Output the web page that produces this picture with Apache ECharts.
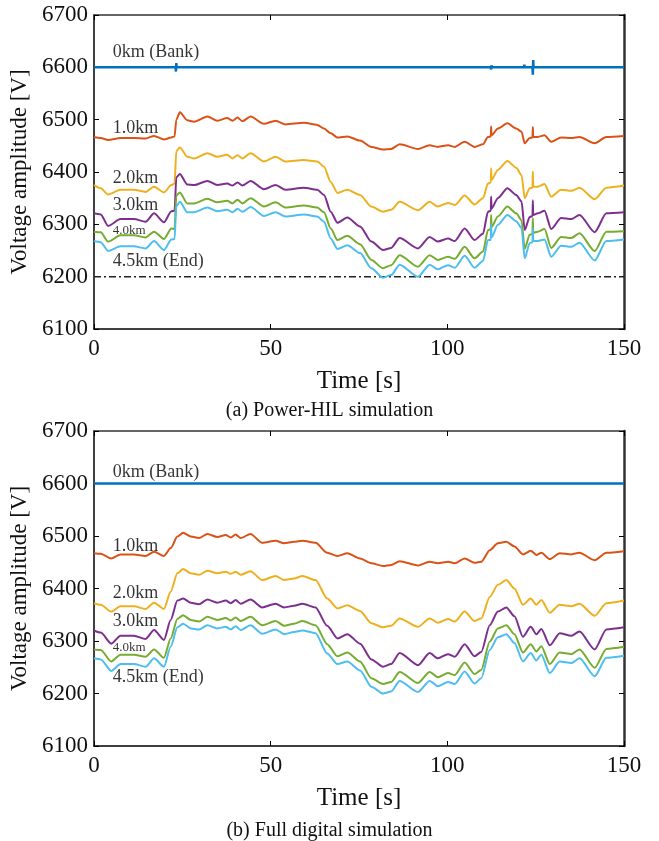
<!DOCTYPE html>
<html>
<head>
<meta charset="utf-8">
<script src="https://cdn.jsdelivr.net/npm/echarts@6/dist/echarts.min.js"></script>
<style>
  html, body { margin: 0; padding: 0; background: #fff; }
  #chart { width: 659px; height: 841px; }
</style>
</head>
<body>
<div id="chart"></div>
<script>
// ---- (a) Power-HIL simulation ----
const tA = [0, 1.9, 4.0, 7.5, 11.3, 14.6, 17.0, 19.8, 21.9, 22.8,
  23.3, 24.3, 26.4, 28.3, 32.1, 34.9, 37.7, 39.2, 40.6, 42.0,
  44.3, 48.1, 51.4, 54.2, 59.4, 63.2, 65.1, 67.0, 68.9, 71.7,
  75.3, 78.5, 81.8, 84.1, 86.5, 91.7, 95.0, 97.3, 100.2, 102.1,
  104.9, 107.7, 110.1, 111.5, 112.3, 112.4, 112.5, 114.3, 117.0, 119.5,
  121.0, 121.9, 123.3, 124.1, 124.2, 124.3, 125.6, 127.5, 129.4, 132.2,
  135.1, 137.4, 141.7, 145.0, 150]
const a10 = [6467, 6465, 6461, 6465, 6465, 6464, 6469, 6462, 6466, 6468,
  6500, 6514, 6499, 6496, 6506, 6498, 6503, 6498, 6504, 6497,
  6506, 6492, 6498, 6491, 6494, 6490, 6483, 6474, 6466, 6468,
  6460, 6448, 6443, 6444, 6453, 6444, 6451, 6448, 6451, 6448,
  6458, 6448, 6453, 6467, 6468, 6487, 6470, 6483, 6493, 6483,
  6477, 6455, 6465, 6466, 6486, 6467, 6467, 6470, 6458, 6466,
  6465, 6467, 6455, 6467, 6469]
const a20 = [6375, 6369, 6357, 6366, 6366, 6362, 6372, 6361, 6375, 6378,
  6440, 6447, 6429, 6426, 6436, 6429, 6433, 6426, 6432, 6426,
  6436, 6420, 6429, 6420, 6423, 6420, 6410, 6381, 6360, 6366,
  6356, 6334, 6324, 6328, 6343, 6327, 6343, 6334, 6341, 6337,
  6355, 6338, 6350, 6378, 6380, 6407, 6385, 6404, 6421, 6408,
  6394, 6350, 6369, 6370, 6401, 6372, 6372, 6377, 6353, 6366,
  6364, 6370, 6348, 6370, 6374]
const a30 = [6321, 6319, 6297, 6310, 6310, 6305, 6321, 6304, 6325, 6326,
  6390, 6396, 6376, 6375, 6383, 6375, 6378, 6374, 6380, 6374,
  6383, 6367, 6375, 6366, 6370, 6366, 6356, 6324, 6303, 6313,
  6296, 6267, 6251, 6255, 6274, 6254, 6276, 6267, 6273, 6268,
  6292, 6270, 6282, 6324, 6326, 6353, 6330, 6350, 6369, 6356,
  6344, 6289, 6314, 6316, 6346, 6318, 6321, 6326, 6291, 6312,
  6310, 6318, 6285, 6321, 6323]
const a40 = [6286, 6285, 6267, 6279, 6279, 6275, 6286, 6272, 6292, 6291,
  6355, 6361, 6340, 6340, 6349, 6342, 6345, 6340, 6347, 6340,
  6350, 6334, 6342, 6332, 6336, 6332, 6323, 6292, 6270, 6278,
  6262, 6232, 6216, 6222, 6241, 6219, 6241, 6232, 6238, 6234,
  6257, 6235, 6248, 6289, 6291, 6318, 6295, 6315, 6334, 6321,
  6308, 6253, 6280, 6282, 6312, 6284, 6286, 6291, 6255, 6276,
  6274, 6283, 6249, 6286, 6287]
const a45 = [6268, 6266, 6249, 6258, 6258, 6254, 6268, 6251, 6271, 6272,
  6335, 6343, 6323, 6323, 6332, 6325, 6328, 6323, 6330, 6324,
  6333, 6316, 6323, 6315, 6319, 6315, 6305, 6273, 6253, 6260,
  6245, 6216, 6198, 6203, 6223, 6200, 6223, 6214, 6222, 6217,
  6240, 6217, 6230, 6270, 6270, 6300, 6275, 6299, 6318, 6306,
  6293, 6235, 6264, 6266, 6293, 6268, 6268, 6271, 6238, 6259,
  6257, 6265, 6231, 6268, 6271]
const t0A = [0, 23.1, 23.2, 23.3, 23.4, 112.3, 112.4, 112.5, 112.6, 121.7, 121.8, 121.9, 124.1, 124.2, 124.3, 124.4, 150]
const v0A = [6600, 6600, 6592, 6608, 6600, 6600, 6596, 6604, 6600, 6600, 6605, 6600, 6600, 6586, 6614, 6600, 6600]
const limT = [0, 150]
const limV = [6200, 6200]

// ---- (b) Full digital simulation ----
const tB = [0, 1.9, 4.9, 7.5, 11.3, 14.6, 17.0, 19.8, 21.7, 23.6,
  25.2, 27.4, 29.7, 32.1, 34.9, 37.3, 38.7, 40.1, 41.5, 44.3,
  47.6, 51.4, 53.8, 56.6, 59.0, 62.7, 66.0, 68.9, 71.7, 75.3,
  78.5, 81.8, 84.1, 86.5, 91.7, 95.0, 97.3, 100.2, 102.1, 104.9,
  107.7, 109.6, 112.0, 114.3, 116.7, 119.0, 121.4, 123.6, 125.2, 126.6,
  129.0, 131.8, 135.1, 137.4, 141.7, 145.0, 150]
const b10 = [6467, 6466, 6457, 6465, 6465, 6462, 6470, 6462, 6477, 6499,
  6506, 6499, 6496, 6504, 6498, 6502, 6497, 6503, 6496, 6504,
  6487, 6491, 6486, 6489, 6491, 6487, 6468, 6462, 6467, 6457,
  6448, 6443, 6445, 6452, 6444, 6451, 6448, 6451, 6448, 6457,
  6449, 6451, 6473, 6486, 6489, 6480, 6465, 6472, 6464, 6468,
  6456, 6467, 6465, 6468, 6454, 6468, 6471]
const b20 = [6372, 6369, 6356, 6366, 6366, 6361, 6373, 6361, 6394, 6429,
  6437, 6429, 6426, 6434, 6429, 6432, 6428, 6432, 6426, 6433,
  6416, 6424, 6416, 6419, 6424, 6416, 6381, 6362, 6368, 6357,
  6334, 6326, 6329, 6343, 6327, 6343, 6335, 6342, 6337, 6356,
  6338, 6343, 6384, 6407, 6416, 6400, 6369, 6381, 6369, 6378,
  6354, 6369, 6366, 6371, 6348, 6372, 6377]
const b30 = [6320, 6316, 6295, 6310, 6310, 6304, 6321, 6302, 6340, 6377,
  6381, 6373, 6370, 6379, 6373, 6377, 6372, 6378, 6371, 6379,
  6364, 6371, 6364, 6367, 6371, 6364, 6329, 6305, 6313, 6295,
  6265, 6251, 6256, 6277, 6254, 6277, 6267, 6275, 6270, 6294,
  6271, 6279, 6330, 6356, 6364, 6347, 6308, 6327, 6313, 6323,
  6292, 6315, 6310, 6318, 6284, 6322, 6326]
const b40 = [6284, 6283, 6261, 6274, 6274, 6270, 6284, 6268, 6305, 6342,
  6349, 6340, 6337, 6346, 6340, 6344, 6339, 6345, 6338, 6346,
  6330, 6338, 6329, 6333, 6338, 6330, 6294, 6271, 6278, 6261,
  6229, 6218, 6222, 6241, 6220, 6241, 6231, 6239, 6235, 6259,
  6237, 6245, 6299, 6324, 6330, 6313, 6278, 6294, 6280, 6290,
  6256, 6278, 6275, 6284, 6249, 6285, 6289]
const b45 = [6267, 6265, 6243, 6256, 6256, 6251, 6267, 6251, 6289, 6326,
  6333, 6324, 6322, 6330, 6324, 6327, 6322, 6328, 6321, 6330,
  6314, 6322, 6313, 6317, 6320, 6315, 6276, 6256, 6261, 6244,
  6213, 6200, 6204, 6224, 6203, 6224, 6214, 6222, 6218, 6242,
  6219, 6229, 6283, 6307, 6313, 6296, 6261, 6277, 6263, 6274,
  6239, 6261, 6258, 6267, 6233, 6268, 6272]
const t0B = [0, 150]
const v0B = [6600, 6600]

// line labels (placed in data units)
const labelText = ['0km (Bank)', '1.0km', '2.0km', '3.0km', '4.0km', '4.5km (End)']
const labelT = [5.9, 5.9, 5.9, 5.9, 5.9, 5.9]
const labelVA = [6629, 6484, 6388, 6337, 6288, 6229]
const labelVB = [6622, 6481, 6390, 6337, 6288, 6230]

const FONT = '"Liberation Serif", "Times New Roman", serif'
const INK = '#111'
const colors = ['#0072BD', '#D95319', '#EDB120', '#7E2F8E', '#77AC30', '#4DBEEE']

function pairs(t, v) {
  return t.map((x, i) => [x, v[i]])
}

function xAxes(g) {
  return [{
    gridIndex: g, type: 'value', min: 0, max: 150, interval: 50, position: 'bottom',
    name: 'Time [s]', nameLocation: 'middle', nameGap: 40,
    nameTextStyle: { fontFamily: FONT, fontSize: 25, color: INK },
    axisLine: { onZero: false, lineStyle: { color: '#000', width: 1.5 } },
    axisTick: { inside: true, length: 5, lineStyle: { color: '#000' } },
    axisLabel: { margin: 8, fontFamily: FONT, fontSize: 23, color: INK },
    splitLine: { show: false }
  }, {
    gridIndex: g, type: 'value', min: 0, max: 150, interval: 50, position: 'top',
    axisLine: { onZero: false, lineStyle: { color: '#333', width: 1.5 } },
    axisTick: { inside: true, length: 5, lineStyle: { color: '#000' } },
    axisLabel: { show: false },
    splitLine: { show: false }
  }]
}

function yAxes(g) {
  return [{
    gridIndex: g, type: 'value', min: 6100, max: 6700, interval: 100, position: 'left',
    name: 'Voltage amplitude [V]', nameLocation: 'middle', nameGap: 50, nameRotate: 90,
    nameTextStyle: { fontFamily: FONT, fontSize: 23, color: INK },
    axisLine: { show: true, onZero: false, lineStyle: { color: '#000', width: 1.5 } },
    axisTick: { show: true, inside: true, length: 5, lineStyle: { color: '#000' } },
    axisLabel: { margin: 6, fontFamily: FONT, fontSize: 23, color: INK, formatter: v => String(v) },
    splitLine: { show: false }
  }, {
    gridIndex: g, type: 'value', min: 6100, max: 6700, interval: 100, position: 'right',
    axisLine: { show: true, onZero: false, lineStyle: { color: '#333', width: 2.5 } },
    axisTick: { show: true, inside: true, length: 5, lineStyle: { color: '#000' } },
    axisLabel: { show: false },
    splitLine: { show: false }
  }]
}

function lines(axis, t, vs, t0, v0) {
  const out = [{
    type: 'line', xAxisIndex: axis, yAxisIndex: axis, data: pairs(t0, v0),
    showSymbol: false, lineStyle: { color: colors[0], width: 2.5 }, z: 2
  }]
  vs.forEach((v, i) => {
    out.push({
      type: 'line', xAxisIndex: axis, yAxisIndex: axis, data: pairs(t, v),
      showSymbol: false, smooth: 0.25, smoothMonotone: 'x',
      lineStyle: { color: colors[i + 1], width: 2 }, z: 3 + i
    })
  })
  return out
}

function labels(axis, vals) {
  return {
    type: 'scatter', xAxisIndex: axis, yAxisIndex: axis, symbolSize: 0, z: 10,
    data: labelText.map((s, i) => ({
      name: s, value: [labelT[i], vals[i]],
      label: { fontSize: s === '4.0km' ? 13 : 18 }
    })),
    label: {
      show: true, position: 'right', distance: 0, offset: [-2, 0], formatter: '{b}',
      fontFamily: FONT, color: '#000'
    }
  }
}

const chart = echarts.init(document.getElementById('chart'))
chart.setOption({
  animation: false,
  backgroundColor: '#fff',
  title: [
    { text: '(a) Power-HIL simulation', left: 'center', top: 396, textStyle: { fontFamily: FONT, fontSize: 20, fontWeight: 'normal', color: INK } },
    { text: '(b) Full digital simulation', left: 'center', top: 816, textStyle: { fontFamily: FONT, fontSize: 20, fontWeight: 'normal', color: INK } }
  ],
  grid: [
    { left: 94, top: 15, width: 530, height: 314 },
    { left: 94, top: 431, width: 530, height: 315 }
  ],
  xAxis: [...xAxes(0), ...xAxes(1)],
  yAxis: [...yAxes(0), ...yAxes(1)],
  series: [
    ...lines(0, tA, [a10, a20, a30, a40, a45], t0A, v0A),
    {
      type: 'line', xAxisIndex: 0, yAxisIndex: 0, data: pairs(limT, limV), showSymbol: false, z: 1,
      lineStyle: { color: '#222', width: 1.5, type: [7, 3, 2, 3] }
    },
    labels(0, labelVA),
    ...lines(2, tB, [b10, b20, b30, b40, b45], t0B, v0B),
    labels(2, labelVB)
  ]
})
</script>
</body>
</html>
